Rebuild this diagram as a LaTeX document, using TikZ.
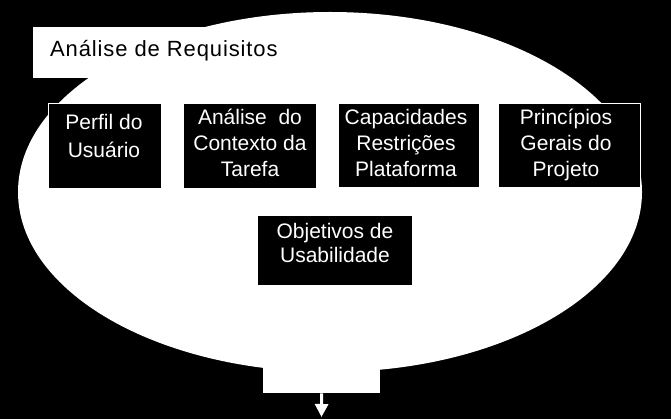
\documentclass[tikz,border=0pt]{standalone}
\usepackage{fontspec}
\setmainfont{Liberation Sans}
\usetikzlibrary{arrows.meta}
\begin{document}
\begin{tikzpicture}[x=1pt,y=-1pt,
  boxstyle/.style={draw=white, line width=0.8pt, fill=black, inner sep=0pt, anchor=north west},
  boxlabel/.style={text=white, align=center, inner sep=0pt, anchor=base},
  panel/.style={fill=white, draw=none, inner sep=0pt, anchor=north west}]
\fill[black] (0,0) rectangle (671,419);
\useasboundingbox (0,0) rectangle (671,419);
\fill[white] (330,192) ellipse [x radius=312pt, y radius=180pt];
\node[panel, minimum width=267pt, minimum height=51pt] (title) at (33,27) {};
\node[anchor=base west, inner sep=0pt, font=\fontsize{22}{26}\selectfont\addfontfeature{LetterSpace=4}] (titletext) at (50,57) {Análise de Requisitos};
\node[boxstyle, minimum width=113pt, minimum height=85pt] (b1) at (48,103) {};
\node[boxstyle, minimum width=133pt, minimum height=85pt] (b2) at (183,103) {};
\node[boxstyle, minimum width=141pt, minimum height=84pt] (b3) at (338,103) {};
\node[boxstyle, minimum width=142pt, minimum height=84pt] (b4) at (498,103) {};
\node[boxstyle, minimum width=155pt, minimum height=70pt] (b5) at (257,215) {};
\node[boxlabel, font=\fontsize{21}{28}\selectfont] (t1) at (104,158) {Perfil do\\Usuário};
\node[boxlabel, font=\fontsize{21}{26}\selectfont] (t2) at (250,177) {Análise\ \ do\\Contexto da\\Tarefa};
\node[boxlabel, font=\fontsize{21}{26}\selectfont] (t3) at (406,177) {Capacidades\\Restrições\\Plataforma};
\node[boxlabel, font=\fontsize{21}{26}\selectfont] (t4) at (566,177) {Princípios\\Gerais do\\Projeto};
\node[boxlabel, font=\fontsize{21}{24}\selectfont] (t5) at (335,262) {Objetivos de\\Usabilidade};
\node[panel, minimum width=117pt, minimum height=63pt] (out) at (263,330) {};
\coordinate (arrowend) at (321.5,417);
\draw[white, line width=3pt, -{Triangle[width=13pt,length=13pt]}] (out.south) -- (arrowend);
\end{tikzpicture}
\end{document}
